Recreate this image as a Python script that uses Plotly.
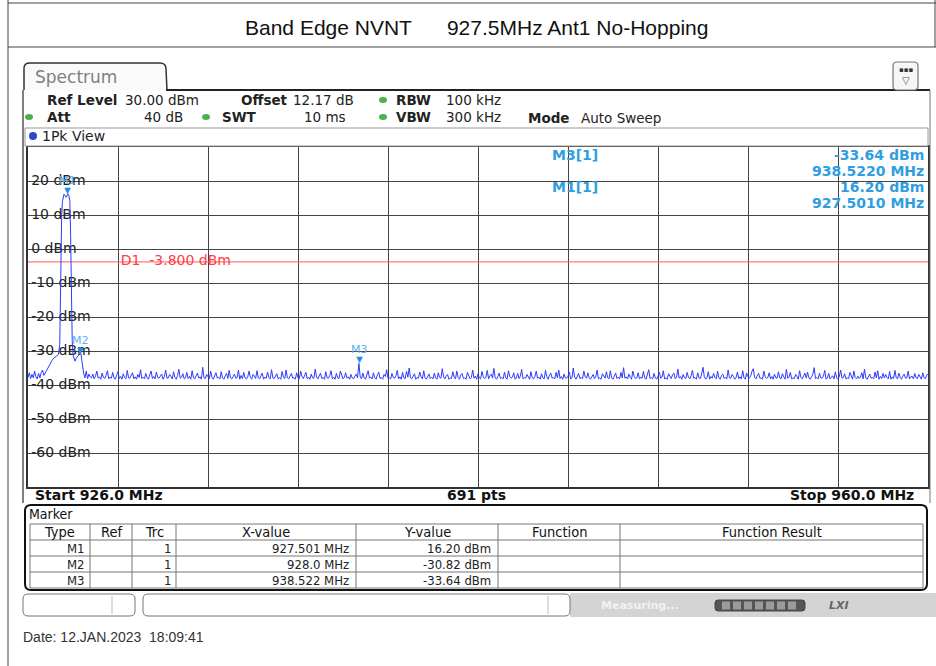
import numpy as np
import plotly.graph_objects as go

W, H = 936, 666

# sweep settings
start_mhz = 926.0
stop_mhz = 960.0
ref_level = 30.0
bottom_level = -70.0
d1_level = -3.8

# trace around the carrier (MHz / dBm)
peak_freq = [926.00, 926.05, 926.10, 926.15, 926.20, 926.25, 926.30, 926.35, 926.40, 926.45,
             926.50, 926.55, 926.60, 926.65, 926.70, 926.75, 926.80, 926.85, 926.90, 926.95,
             927.00, 927.05, 927.10, 927.15, 927.20, 927.23, 927.27, 927.30, 927.33, 927.36,
             927.40, 927.44, 927.47, 927.50, 927.54, 927.58, 927.61, 927.64, 927.67, 927.70,
             927.74, 927.78, 927.82, 927.86, 927.90, 927.95, 928.00, 928.05, 928.10, 928.15,
             928.20, 928.25, 928.30, 928.35]
peak_level = [-37.8, -36.4, -38.1, -36.9, -37.9, -35.9, -37.6, -38.2, -36.6, -37.9,
              -36.3, -35.6, -37.2, -36.4, -35.6, -34.8, -34.3, -33.4, -32.9, -32.3,
              -31.9, -31.6, -31.3, -31.0, -28.0, -4.0, 9.0, 14.0, 15.6, 16.1,
              15.7, 15.2, 15.6, 16.2, 15.9, 14.2, 4.0, -14.0, -27.0, -31.2,
              -32.6, -33.0, -32.1, -31.7, -31.2, -30.9, -30.82, -33.8, -36.5, -37.9,
              -35.9, -38.1, -36.8, -37.6]

# noise floor, one reading every 0.05 MHz from 928.4 MHz
floor_start = 928.4
floor_step = 0.05
floor_level = [
    -37.9, -36.8, -38.2, -37.4, -35.9, -38.0, -37.6, -38.3, -36.5, -37.8, -38.1, -37.2, -35.8, -38.2, -37.7, -38.0, -36.3, -37.9, -38.3, -37.1,
    -36.0, -38.1, -37.5, -38.3, -36.7, -37.8, -38.2, -35.7, -37.9, -38.0, -37.3, -36.4, -38.2, -37.6, -38.3, -36.9, -37.8, -35.5, -38.1, -37.7,
    -38.2, -36.6, -37.9, -38.3, -37.0, -35.9, -38.1, -37.5, -38.2, -36.2, -37.8, -38.0, -37.4, -36.8, -38.3, -37.6, -35.6, -38.0, -37.9, -36.9,
    -37.5, -38.2, -36.1, -37.8, -38.3, -37.2, -35.4, -38.0, -37.7, -36.7, -38.2, -37.9, -36.3, -38.1, -37.5, -38.3, -35.8, -37.9, -38.2, -37.0,
    -36.5, -38.0, -37.6, -38.3, -34.8, -37.9, -38.1, -36.9, -37.4, -38.2, -35.9, -37.8, -38.3, -37.1, -36.4, -38.0, -37.7, -38.2, -36.1, -37.9,
    -38.3, -37.3, -36.6, -38.1, -35.7, -37.9, -38.2, -37.5, -36.8, -38.0, -37.8, -35.6, -38.3, -37.2, -38.1, -36.3, -37.9, -38.2, -37.6, -35.9,
    -37.8, -38.3, -36.9, -37.4, -38.1, -35.8, -37.9, -38.2, -37.0, -36.5, -38.3, -37.7, -38.0, -36.2, -37.8, -38.2, -35.5, -37.9, -38.1, -37.3,
    -36.7, -38.2, -37.8, -38.3, -36.0, -37.6, -38.1, -35.6, -37.9, -38.2, -37.4, -36.6, -38.0, -37.8, -38.3, -36.4, -37.9, -38.2, -35.9, -37.5,
    -38.1, -37.0, -36.3, -38.2, -37.7, -38.3, -36.8, -37.9, -38.0, -35.3, -37.6, -38.2, -37.3, -36.5, -38.1, -37.8, -38.3, -36.1, -37.9, -38.0,
    -37.2, -35.8, -38.2, -37.7, -38.3, -36.6, -37.9, -38.1, -35.9, -37.5, -38.2, -37.8, -36.4, -38.0, -37.6, -38.3, -36.9, -37.9, -38.2, -37.4,
    -36.8, -37.9, -33.64, -37.6, -38.2, -36.5, -37.9, -38.3, -37.1, -35.8, -38.0, -37.7, -38.2, -36.4, -37.9, -38.3, -37.0, -36.2, -38.1, -37.8,
    -38.3, -36.9, -37.5, -35.5, -38.1, -37.9, -38.2, -36.6, -37.8, -38.0, -37.3, -35.7, -38.2, -37.6, -38.3, -36.3, -37.9, -38.1, -36.0, -37.7,
    -35.0, -37.9, -38.2, -37.4, -36.7, -38.3, -37.8, -38.0, -36.2, -37.6, -38.2, -35.8, -37.9, -38.3, -37.5, -36.8, -38.1, -37.7, -38.2, -36.5,
    -37.9, -38.3, -36.4, -37.8, -38.0, -35.2, -37.6, -38.2, -37.3, -36.9, -38.3, -37.9, -38.1, -36.1, -37.7, -38.2, -35.9, -37.8, -38.3, -37.0,
    -36.6, -38.1, -37.9, -38.3, -36.3, -37.5, -38.2, -37.8, -35.6, -38.0, -37.4, -38.3, -36.7, -37.9, -38.2, -36.0, -37.6, -38.1, -37.8, -35.7,
    -38.2, -37.3, -36.8, -38.0, -35.1, -37.9, -38.3, -37.6, -36.5, -38.1, -37.8, -38.2, -36.2, -37.9, -38.3, -35.8, -37.5, -38.0, -37.7, -36.4,
    -38.3, -37.9, -36.6, -38.1, -37.4, -35.4, -38.2, -37.8, -38.0, -36.9, -37.6, -38.3, -36.1, -37.9, -38.2, -37.5, -35.9, -38.0, -37.7, -38.3,
    -36.7, -37.9, -38.2, -35.7, -37.6, -38.3, -37.1, -36.5, -38.0, -37.8, -38.2, -36.3, -37.9, -35.6, -38.1, -37.5, -38.3, -36.8, -37.9, -38.0,
    -37.4, -36.2, -38.2, -37.9, -35.0, -37.7, -38.3, -37.2, -36.6, -38.1, -37.8, -38.2, -35.9, -37.6, -38.0, -36.4, -37.9, -38.3, -37.3, -36.9,
    -38.1, -37.6, -35.6, -38.2, -37.9, -38.3, -36.7, -37.5, -38.0, -36.1, -37.8, -38.2, -35.8, -37.9, -38.3, -37.4, -36.5, -38.1, -37.7, -38.2,
    -36.3, -37.9, -34.9, -38.0, -37.6, -38.2, -36.8, -37.8, -38.3, -35.9, -37.5, -38.1, -37.9, -36.4, -38.2, -37.7, -38.0, -36.0, -37.9, -38.3,
    -37.2, -35.5, -38.1, -37.8, -38.2, -36.6, -37.9, -38.3, -37.4, -36.2, -38.0, -37.7, -35.8, -38.2, -37.9, -38.3, -36.7, -37.6, -38.1, -37.0,
    -36.5, -38.2, -37.8, -35.3, -38.0, -37.5, -38.3, -36.9, -37.9, -38.1, -36.3, -37.7, -38.2, -37.3, -35.7, -38.0, -37.8, -38.3, -36.4, -37.9,
    -38.1, -36.7, -34.8, -37.6, -38.2, -37.9, -36.1, -38.3, -37.5, -38.0, -36.6, -37.8, -38.2, -35.9, -37.9, -38.3, -37.2, -36.8, -38.1, -37.7,
    -38.2, -35.6, -37.9, -38.0, -36.9, -37.5, -38.3, -37.8, -36.2, -38.1, -37.6, -38.2, -35.8, -37.9, -38.3, -36.5, -37.7, -38.0, -37.4, -36.0,
    -35.2, -37.8, -38.2, -37.3, -36.6, -38.0, -37.9, -38.3, -35.9, -37.6, -38.1, -37.8, -36.4, -38.2, -37.5, -38.3, -36.8, -37.9, -38.0, -36.1,
    -37.9, -38.2, -36.7, -37.6, -38.3, -35.4, -38.0, -37.7, -36.3, -38.2, -37.9, -38.1, -36.9, -37.5, -38.3, -35.8, -37.8, -38.2, -37.3, -36.5,
    -38.0, -36.2, -37.9, -38.3, -37.6, -36.8, -34.9, -38.1, -37.8, -38.2, -36.5, -37.9, -38.0, -37.4, -35.7, -38.3, -37.9, -36.6, -38.2, -37.7,
    -37.3, -38.2, -36.1, -37.9, -38.3, -37.5, -35.6, -38.0, -37.8, -36.7, -38.2, -37.9, -38.1, -36.3, -37.6, -38.3, -35.9, -37.8, -38.2, -37.4,
    -38.1, -37.7, -36.4, -38.2, -35.3, -37.9, -38.3, -37.6, -36.8, -38.0, -37.8, -38.2, -36.2, -37.9, -35.8, -38.3, -37.5, -38.1, -36.6, -37.9,
    -36.9, -37.8, -38.2, -36.0, -38.3, -37.6, -38.1, -35.7, -37.9, -38.2, -36.5, -37.8, -38.3, -37.4, -36.8, -38.0, -37.9, -35.9, -38.2, -37.6,
    -37.4, -38.2, -36.6, -37.9, -38.1, -36.9, -37.7, -38.3, -36.4, -37.8, -38.2, -37.1, -36.8,
]

ytick_vals = [20, 10, 0, -10, -20, -30, -40, -50, -60]

marker_names = ["M1", "M2", "M3"]
marker_freq = [927.501, 928.0, 938.522]
marker_level = [16.20, -30.82, -33.64]
marker_xtext = ["927.501 MHz", "928.0 MHz", "938.522 MHz"]
n_points = 691

title_left = "Band Edge NVNT"
title_right = "927.5MHz Ant1 No-Hopping"
date_text = "Date: 12.JAN.2023  18:09:41"

MONO = "DejaVu Sans"
COND = "DejaVu Sans Condensed"
BLUE_TXT = "#2e9ee0"


def px(x):
    return x / W


def py(y):
    return 1 - y / H


shapes = []
annos = []


def line(x0, y0, x1, y1, color="#333", width=1, layer="above"):
    shapes.append(dict(type="line", xref="paper", yref="paper", x0=px(x0), y0=py(y0),
                       x1=px(x1), y1=py(y1), line=dict(color=color, width=width), layer=layer))


def rect(x0, y0, x1, y1, fill="white", color=None, width=1, layer="above"):
    shapes.append(dict(type="rect", xref="paper", yref="paper", x0=px(x0), y0=py(y0),
                       x1=px(x1), y1=py(y1), fillcolor=fill,
                       line=dict(color=color or fill, width=width if color else 0), layer=layer))


def rrect(x0, y0, x1, y1, r, color="#333", width=1, fill=None, layer="above"):
    p = (f"M{px(x0 + r)},{py(y0)} L{px(x1 - r)},{py(y0)} Q{px(x1)},{py(y0)} {px(x1)},{py(y0 + r)} "
         f"L{px(x1)},{py(y1 - r)} Q{px(x1)},{py(y1)} {px(x1 - r)},{py(y1)} "
         f"L{px(x0 + r)},{py(y1)} Q{px(x0)},{py(y1)} {px(x0)},{py(y1 - r)} "
         f"L{px(x0)},{py(y0 + r)} Q{px(x0)},{py(y0)} {px(x0 + r)},{py(y0)} Z")
    shapes.append(dict(type="path", xref="paper", yref="paper", path=p,
                       fillcolor=fill or "rgba(0,0,0,0)", line=dict(color=color, width=width),
                       layer=layer))


def dot(x, y, rx, ry, fill):
    shapes.append(dict(type="circle", xref="paper", yref="paper", x0=px(x - rx), y0=py(y - ry),
                       x1=px(x + rx), y1=py(y + ry), fillcolor=fill, line=dict(width=0)))


def text(x, y, s, size=13, color="#222", anchor="left", family=MONO, bold=False):
    annos.append(dict(x=px(x), y=py(y), xref="paper", yref="paper", showarrow=False,
                      text=f"<b>{s}</b>" if bold else s, xanchor=anchor, yanchor="middle",
                      font=dict(family=family, size=size, color=color), borderpad=0))


# ---- outer frame and title
line(8, 0, 8, H, "#444", 1)
line(8, 3, 936, 3, "#444", 1)
line(8, 47, 936, 47, "#444", 1)
line(935, 0, 935, 47, "#444", 1)
sp = "\u00a0" * 6
text(476, 27, f"{title_left}{sp}{title_right}", 21, "#111", "center", "Liberation Sans")

# ---- spectrum panel header
tab = (f"M{px(24)},{py(90)} L{px(24)},{py(68)} Q{px(24)},{py(63)} {px(30)},{py(63)} "
       f"L{px(160)},{py(63)} Q{px(166)},{py(63)} {px(166)},{py(69)} L{px(167)},{py(90)}")
shapes.append(dict(type="path", xref="paper", yref="paper", path=tab, fillcolor="#fafafa",
                   line=dict(color="#333", width=1.5)))
text(34, 77, "Spectrum", 17, "#808080")
line(166, 90, 930, 90, "#222", 2)
line(23, 90, 23, 503, "#555", 1.5)
line(930, 90, 930, 503, "#777", 1)
rrect(893, 62, 918, 90, 4, "#777", 1.2, "#f6f6f6")
text(905.5, 70, "▪▪▪", 7, "#333", "center")
text(905.5, 81, "▽", 10, "#555", "center")

HS = 13.5
text(46, 100, "Ref Level", HS, bold=True)
text(124, 100, "30.00 dBm", HS)
text(240, 100, "Offset", HS, bold=True)
text(292, 100, "12.17 dB", HS)
dot(383, 100, 4, 3, "#4caf50")
text(395, 100, "RBW", HS, bold=True)
text(445, 100, "100 kHz", HS)
dot(29, 117, 4, 3, "#4caf50")
text(46, 117, "Att", HS, bold=True)
text(184, 117, "40 dB", HS, anchor="right")
dot(206, 117, 4, 3, "#4caf50")
text(221, 117, "SWT", HS, bold=True)
text(347, 117, "10 ms", HS, anchor="right")
dot(383, 117, 4, 3, "#4caf50")
text(395, 117, "VBW", HS, bold=True)
text(445, 117, "300 kHz", HS)
text(527, 118, "Mode", HS, bold=True)
text(580, 118, "Auto Sweep", HS)

rect(25, 128, 928, 146, "white", "#999", 1)
dot(33, 136, 4, 4, "#2a48c8")
text(41, 136, "1Pk View", 14)

# ---- diagram overlays (white patches sit between grid and trace)
for v in ytick_vals:
    lbl = f"{v} dBm"
    wdt = sum(5.2 if c == "-" else 4.5 if c == " " else 14 if c == "m" else 9.2 for c in lbl)
    shapes.append(dict(type="rect", xref="paper", yref="y", x0=px(28.5), x1=px(36 + wdt),
                       y0=v - 2.2, y1=v + 2.2, fillcolor="white", line=dict(width=0),
                       layer="between"))
rect(547, 148, 927, 211, "white", layer="between")

# ---- bottom row, marker table, status
text(34, 495, "Start 926.0 MHz", 14, "#111", bold=True)
text(476, 495, f"{n_points} pts", 14, "#111", "center", bold=True)
text(915, 495, "Stop 960.0 MHz", 14, "#111", "right", bold=True)

rrect(25, 505, 927, 590, 6, "#111", 2)
text(28, 514, "Marker", 14, "#111", family=COND)
cols = [30, 90, 132, 176, 356, 498, 620, 923]
rows = [524, 540, 556, 572, 588]
for yy in rows:
    line(cols[0], yy, cols[-1], yy, "#777", 1)
for xx in cols:
    line(xx, rows[0], xx, rows[-1], "#777", 1)
heads = ["Type", "Ref", "Trc", "X-value", "Y-value", "Function", "Function Result"]
for i, h in enumerate(heads):
    text((cols[i] + cols[i + 1]) / 2, 532, h, 14.5, "#111", "center", COND)
for r in range(3):
    yy = (rows[r + 1] + rows[r + 2]) / 2
    text(cols[1] - 4, yy, marker_names[r], 13, "#222", "right", COND)
    text(cols[3] - 4, yy, "1", 13, "#222", "right", COND)
    text(cols[4] - 6, yy, marker_xtext[r], 13, "#222", "right", COND)
    text(cols[5] - 6, yy, f"{marker_level[r]:.2f} dBm", 13, "#222", "right", COND)

rect(570, 593, 936, 617, "#d4d4d4")
rrect(23, 594, 135, 616, 5, "#777", 1, "white")
line(112, 596, 112, 614, "#bbb", 1)
rrect(143, 594, 570, 616, 5, "#777", 1, "white")
line(548, 596, 548, 614, "#bbb", 1)
text(600, 605, "Measuring...", 11, "#f2f2f2", family=MONO, bold=True)
rrect(715, 600, 805, 611, 3, "#444", 1, "#555")
for k in range(7):
    rect(722 + k * 11, 601.5, 730 + k * 11, 609.5, "#9a9a9a")
text(828, 605, "<i>LXI</i>", 11, "#666", bold=True)

text(22, 637, date_text, 14, "#333", family="Liberation Sans")

# ---- marker readout block
MS = 14
text(551, 155, "M3[1]", MS, BLUE_TXT, bold=True)
text(925, 155, f"{marker_level[2]:.2f} dBm", MS, BLUE_TXT, "right", bold=True)
text(925, 171, f"{marker_freq[2]:.4f} MHz", MS, BLUE_TXT, "right", bold=True)
text(551, 187, "M1[1]", MS, BLUE_TXT, bold=True)
text(925, 187, f"{marker_level[0]:.2f} dBm", MS, BLUE_TXT, "right", bold=True)
text(925, 203, f"{marker_freq[0]:.4f} MHz", MS, BLUE_TXT, "right", bold=True)

# D1 display line
shapes.append(dict(type="line", xref="x", yref="y", x0=start_mhz, x1=stop_mhz,
                   y0=d1_level, y1=d1_level, line=dict(color="#ff5a5a", width=1),
                   layer="between"))

freqs = list(peak_freq) + list(floor_start + floor_step * np.arange(len(floor_level)))
levels = list(peak_level) + list(floor_level)

fig = go.Figure()
fig.add_trace(go.Scatter(x=[start_mhz + 0.12] * len(ytick_vals), y=ytick_vals,
                         text=[f"{v} dBm" for v in ytick_vals], mode="text",
                         textposition="middle right", hoverinfo="skip",
                         textfont=dict(family=MONO, size=14, color="#222")))
fig.add_trace(go.Scatter(x=[929.5], y=[d1_level], text=[f"D1  {d1_level:.3f} dBm"], mode="text",
                         textposition="middle right", hoverinfo="skip",
                         textfont=dict(family=MONO, size=14, color="#ff4040")))
fig.add_trace(go.Scatter(x=freqs, y=levels, mode="lines", hoverinfo="skip",
                         line=dict(color="#2b3cff", width=1)))

for name, f, lv in zip(marker_names, marker_freq, marker_level):
    annos.append(dict(x=f, y=lv, xref="x", yref="y", text="▼", showarrow=False,
                      yanchor="bottom", yshift=-5, font=dict(size=11, color="#1a8ee0")))
    annos.append(dict(x=f, y=lv, xref="x", yref="y", text=name, showarrow=False,
                      yanchor="bottom", yshift=5, font=dict(family=MONO, size=11, color="#58b4ec")))

fig.update_layout(
    width=W, height=H,
    margin=dict(l=0, r=0, t=0, b=0),
    paper_bgcolor="white", plot_bgcolor="white",
    showlegend=False,
    xaxis=dict(domain=[px(28), px(928)], range=[start_mhz, stop_mhz], tick0=start_mhz,
               dtick=(stop_mhz - start_mhz) / 10, showticklabels=False, ticks="",
               showgrid=True, gridcolor="#444", gridwidth=1, zeroline=False,
               showline=True, mirror=True, linecolor="#333", linewidth=1.5, fixedrange=True),
    yaxis=dict(domain=[py(487), py(147)], range=[bottom_level, ref_level], tick0=bottom_level,
               dtick=10, showticklabels=False, ticks="", showgrid=True, gridcolor="#444",
               gridwidth=1, zeroline=False, showline=True, mirror=True, linecolor="#333",
               linewidth=1.5, fixedrange=True),
    shapes=shapes,
    annotations=annos,
)

fig.write_html("out.html", config={"displayModeBar": False},
               post_script="document.body.style.margin='0px';")
